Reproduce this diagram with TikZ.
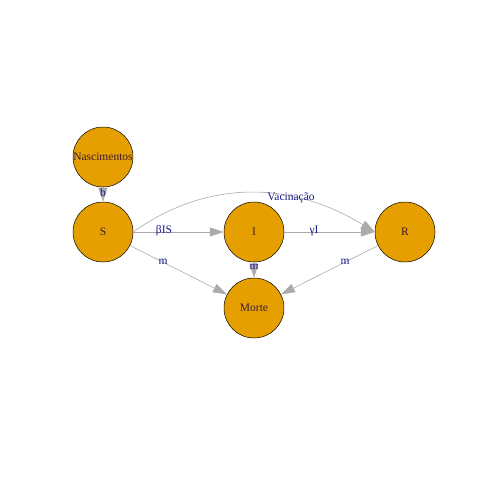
\documentclass[tikz,border=0pt]{standalone}
\usepackage{fontspec}
\setmainfont{Liberation Serif}
\usetikzlibrary{arrows.meta}
\definecolor{vfill}{HTML}{E69F00}
\definecolor{egray}{HTML}{ABABAB}
\definecolor{lblue}{HTML}{1A1A8A}
\definecolor{vtext}{HTML}{3A1C36}
\begin{document}
\begin{tikzpicture}[x=1pt,y=-1pt,
  vert/.style={circle,draw=black,line width=0.5pt,fill=vfill,minimum size=60pt,inner sep=0pt,text=vtext,font=\fontsize{11.5}{13}\selectfont},
  edge/.style={draw=egray,line width=0.6pt,-{Triangle[length=14pt,width=9pt,fill=egray]}},
  elab/.style={text=lblue,font=\fontsize{11.5}{13}\selectfont,inner sep=0pt}]
\useasboundingbox (0,0) rectangle (480,480);
\node[vert] (N) at (103,157) {Nascimentos};
\node[vert] (S) at (103,232) {S};
\node[vert] (I) at (254,232) {I};
\node[vert] (R) at (405,232) {R};
\node[vert] (M) at (254,308) {Morte};
\draw[edge] (N) -- (S);
\draw[edge] (S) -- (I);
\draw[edge] (I) -- (R);
\draw[edge] (S.east) .. controls (206,180) and (290,180) .. (R.west);
\draw[edge] (S) -- (M);
\draw[edge] (I) -- (M);
\draw[edge] (R) -- (M);
\node[elab] (lb) at (103,193) {b};
\node[elab] (lbis) at (164,231) {βIS};
\node[elab] (lgi) at (314,231) {γI};
\node[elab] (lv) at (291,198) {Vacinação};
\node[elab] (lm1) at (163,262) {m};
\node[elab] (lm2) at (254,267) {m};
\node[elab] (lm3) at (345,262) {m};
\end{tikzpicture}
\end{document}
